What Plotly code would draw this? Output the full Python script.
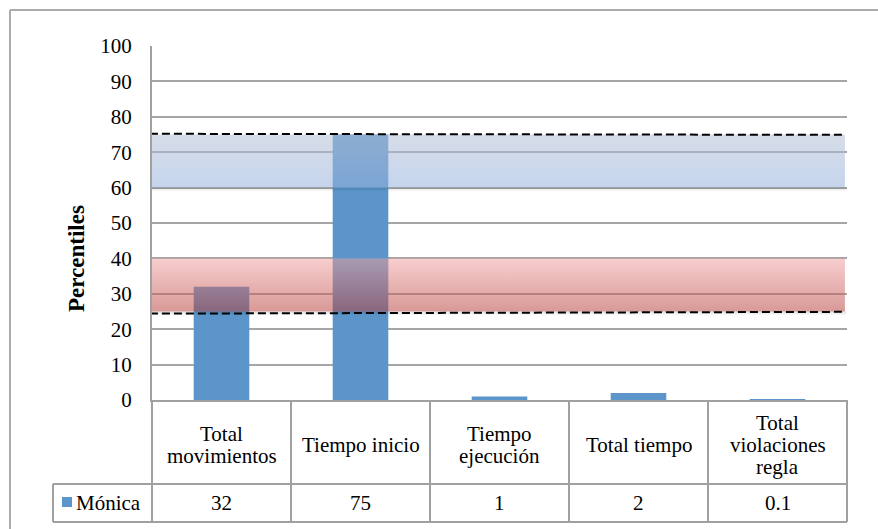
import plotly.graph_objects as go

# ---- data -------------------------------------------------------------
categories = ["Total\nmovimientos", "Tiempo inicio", "Tiempo\nejecución",
              "Total tiempo", "Total\nviolaciones\nregla"]
series_name = "Mónica"
monica = [32, 75, 1, 2, 0.1]
value_labels = ["32", "75", "1", "2", "0.1"]
y_ticks = list(range(0, 101, 10))

# percentile reference bands (low, high)
blue_band = (60, 75)
red_band = (25, 40)
# dashed limit lines: value at the left end, value at the right end
upper_limit = (75.2, 74.9)
lower_limit = (24.4, 24.9)

# ---- styling -----------------------------------------------------------
FONT = "Liberation Serif"
BAR = "#5b95c9"
GRID = "#a6a6a6"
W, H = 878, 529
ML, MR, MT, MB = 152, 31, 46, 129
PW, PH = W - ML - MR, H - MT - MB
n = len(categories)


def px_x(px):
    return (px - ML) / PW


def px_y(py):
    return (H - MB - py) / PH


fig = go.Figure()

fig.add_trace(go.Bar(
    x=list(range(n)), y=monica, width=0.4, marker_color=BAR,
    marker_line_width=0, name=series_name, showlegend=False,
))

x_left, x_right = -0.515, 4.485


def band(lo, hi, top_rgba, bottom_rgba):
    # soft shadow under the band
    fig.add_trace(go.Scatter(
        x=[x_left + 0.01, x_right + 0.01, x_right + 0.01, x_left + 0.01, x_left + 0.01],
        y=[lo - 1.2, lo - 1.2, lo, lo, lo - 1.2],
        mode="lines", line_width=0, fill="toself",
        fillgradient=dict(type="vertical",
                          colorscale=[[0, "rgba(0,0,0,0)"], [1, "rgba(0,0,0,0.12)"]]),
        hoverinfo="skip", showlegend=False,
    ))
    fig.add_trace(go.Scatter(
        x=[x_left, x_right, x_right, x_left, x_left],
        y=[lo, lo, hi, hi, lo],
        mode="lines", line_width=0, fill="toself",
        fillgradient=dict(type="vertical",
                          colorscale=[[0, bottom_rgba], [1, top_rgba]]),
        hoverinfo="skip", showlegend=False,
    ))


band(*blue_band, "rgba(182,193,214,0.55)", "rgba(150,178,222,0.55)")
band(*red_band, "rgba(240,160,160,0.52)", "rgba(180,60,55,0.52)")

for lim in (upper_limit, lower_limit):
    fig.add_trace(go.Scatter(
        x=[x_left, 4.464], y=list(lim), mode="lines",
        line=dict(color="black", width=2, dash="8px,4px"),
        hoverinfo="skip", showlegend=False,
    ))

# ---- data table under the plot ----------------------------------------
LINE = dict(color="#a0a0a0", width=2)
row1_top, row_sep, row2_bot = 400, 484, 522
legend_left = 53
shapes = []
for k in range(n + 1):
    shapes.append(dict(type="line", xref="paper", yref="paper",
                       x0=k / n, x1=k / n, y0=px_y(row1_top), y1=px_y(row2_bot), line=LINE))
for py in (row_sep, row2_bot):
    shapes.append(dict(type="line", xref="paper", yref="paper",
                       x0=px_x(legend_left), x1=1, y0=px_y(py), y1=px_y(py), line=LINE))
shapes.append(dict(type="line", xref="paper", yref="paper",
                   x0=px_x(legend_left), x1=px_x(legend_left),
                   y0=px_y(row_sep), y1=px_y(row2_bot), line=LINE))
# legend swatch
shapes.append(dict(type="rect", xref="paper", yref="paper",
                   x0=px_x(62), x1=px_x(72), y0=px_y(507), y1=px_y(497),
                   fillcolor=BAR, line_width=0))
# outer chart frame
FRAME = dict(color="#acacac", width=2)
shapes.append(dict(type="line", xref="paper", yref="paper",
                   x0=px_x(10), x1=px_x(10), y0=px_y(10), y1=px_y(535), line=FRAME))
shapes.append(dict(type="line", xref="paper", yref="paper",
                   x0=px_x(10), x1=px_x(885), y0=px_y(10), y1=px_y(10), line=FRAME))

annotations = []
TXT = dict(family=FONT, size=21, color="black")
line_gap = 22
row1_mid = 445
for i, cat in enumerate(categories):
    parts = cat.split("\n")
    for j, part in enumerate(parts):
        py = row1_mid + (j - (len(parts) - 1) / 2) * line_gap
        annotations.append(dict(text=part, xref="paper", yref="paper",
                                x=(i + 0.5) / n, y=px_y(py), xanchor="center",
                                yanchor="middle", showarrow=False, font=TXT))
    annotations.append(dict(text=value_labels[i], xref="paper", yref="paper",
                            x=(i + 0.5) / n, y=px_y(503), xanchor="center",
                            yanchor="middle", showarrow=False, font=TXT))
annotations.append(dict(text=series_name, xref="paper", yref="paper",
                        x=px_x(74), y=px_y(503), xanchor="left", yanchor="middle",
                        showarrow=False, font=TXT))
annotations.append(dict(text="<b>Percentiles</b>", xref="paper", yref="paper",
                        x=px_x(76), y=px_y(259), xanchor="center", yanchor="middle",
                        textangle=-90, showarrow=False,
                        font=dict(family=FONT, size=23, color="black")))

fig.update_layout(
    width=W, height=H,
    margin=dict(l=ML, r=MR, t=MT, b=MB, pad=0),
    paper_bgcolor="white", plot_bgcolor="white",
    shapes=shapes, annotations=annotations, showlegend=False,
    xaxis=dict(range=[-0.5, n - 0.5], showgrid=False, showticklabels=False,
               zeroline=False, showline=True, linecolor="#a0a0a0", linewidth=2,
               fixedrange=True),
    yaxis=dict(range=[0, 100], tickvals=y_ticks, showgrid=True, gridcolor=GRID,
               gridwidth=1.5, zeroline=False, showline=True, linecolor="#a0a0a0",
               linewidth=2, ticks="", ticklabelstandoff=14,
               tickfont=dict(family=FONT, size=21, color="black"), fixedrange=True),
)

fig.write_html("out.html")
